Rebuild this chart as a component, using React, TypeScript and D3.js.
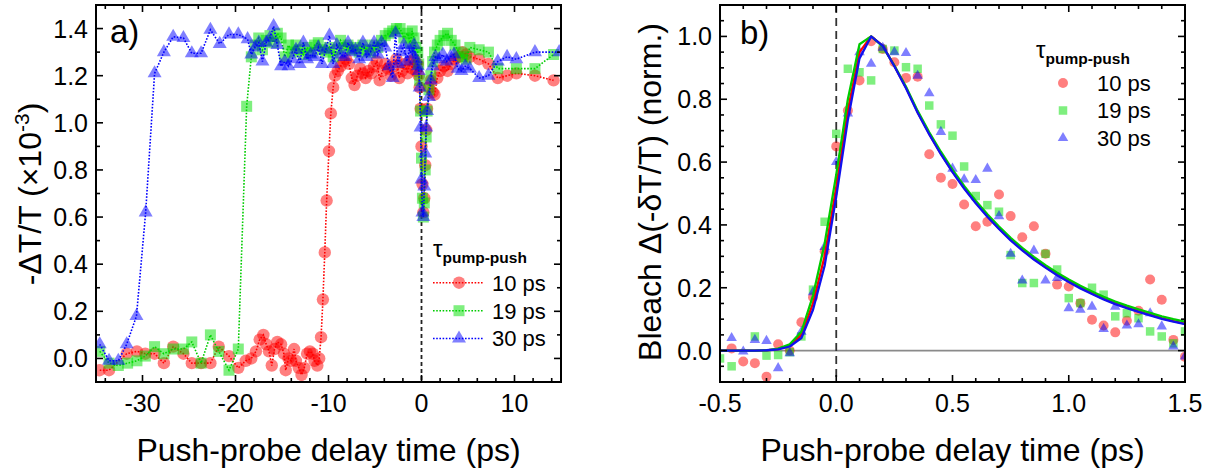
import React from 'react';
import * as d3 from 'd3';

// ---------- tick labels ----------
const aXTicks = [-30, -20, -10, 0, 10];
const aYTicks = [0, 0.2, 0.4, 0.6, 0.8, 1.0, 1.2, 1.4];
const bXTicks = [-0.5, 0, 0.5, 1.0, 1.5];
const bYTicks = [0, 0.2, 0.4, 0.6, 0.8, 1.0];
const legendLabels = ['10 ps', '19 ps', '30 ps'];

// ---------- panel a data: [delay (ps), -dT/T (x1e-3)] ----------
const a10: [number, number][] = [
  [-34.6, -0.05], [-33.6, -0.05], [-31.7, 0.02], [-30.6, 0.03], [-29.7, 0.02], [-28.7, 0.02], [-27.7, -0.02],
  [-26.7, 0.05], [-25.6, 0.02], [-24.7, -0.02], [-23.7, -0.02], [-22.7, -0.02], [-21.8, 0.05], [-20.7, 0.01],
  [-19.7, -0.04], [-18.9, -0.01], [-18.3, 0.0], [-17.8, 0.03], [-17.4, 0.08], [-17.0, 0.10], [-16.7, 0.06],
  [-16.4, 0.03], [-16.1, -0.03], [-15.8, 0.04], [-15.5, 0.07], [-15.1, 0.06], [-14.8, 0.02], [-14.6, -0.05],
  [-14.3, 0.0], [-14.0, -0.01], [-13.7, 0.04], [-13.5, -0.01], [-13.2, -0.04], [-12.9, -0.07], [-12.6, -0.04],
  [-12.3, 0.02], [-12.0, 0.03], [-11.7, 0.02], [-11.5, -0.01], [-11.2, -0.03], [-11.0, 0.0], [-10.8, 0.09],
  [-10.6, 0.25], [-10.4, 0.45], [-10.2, 0.67], [-9.95, 0.88], [-9.75, 1.04], [-9.5, 1.15], [-9.3, 1.2],
  [-9.0, 1.22], [-8.7, 1.24], [-8.4, 1.26], [-8.1, 1.27], [-7.8, 1.25], [-7.5, 1.19], [-7.2, 1.16], [-6.9, 1.2],
  [-6.6, 1.23], [-6.3, 1.21], [-6.0, 1.19], [-5.7, 1.22], [-5.4, 1.21], [-5.1, 1.24], [-4.8, 1.26], [-4.5, 1.18],
  [-4.2, 1.22], [-3.9, 1.25], [-3.6, 1.23], [-3.3, 1.2], [-3.0, 1.24], [-2.7, 1.27], [-2.4, 1.19], [-2.1, 1.22],
  [-1.8, 1.25], [-1.5, 1.21], [-1.2, 1.26], [-1.0, 1.23], [-0.8, 1.27], [-0.6, 1.22], [-0.4, 1.25], [-0.3, 1.2],
  [-0.2, 1.15], [-0.1, 1.06], [0.0, 0.9], [0.1, 0.74], [0.2, 0.62], [0.3, 0.68], [0.4, 0.82], [0.5, 0.97],
  [0.6, 1.06], [0.8, 1.15], [1.0, 1.18], [1.2, 1.13], [1.4, 1.12], [1.7, 1.19], [2.0, 1.22], [2.4, 1.24],
  [2.8, 1.22], [3.2, 1.25], [3.6, 1.27], [4.0, 1.28], [4.4, 1.3], [4.8, 1.29], [5.2, 1.28], [6.2, 1.27],
  [7.2, 1.25], [8.2, 1.19], [9.2, 1.2], [10.2, 1.21], [12.2, 1.2], [14.2, 1.18],
];
const a19: [number, number][] = [
  [-34.6, 0.03], [-33.6, -0.02], [-32.6, -0.03], [-31.6, -0.02], [-30.6, -0.01], [-29.7, 0.01], [-28.7, 0.05],
  [-27.7, 0.02], [-26.7, 0.04], [-25.6, 0.04], [-24.7, 0.07], [-23.7, -0.02], [-22.7, 0.1], [-21.8, 0.03],
  [-20.7, -0.05], [-19.7, 0.04], [-18.8, 1.07], [-18.3, 1.28], [-17.9, 1.33], [-17.5, 1.36], [-17.1, 1.31],
  [-16.7, 1.35], [-16.3, 1.37], [-15.9, 1.34], [-15.5, 1.38], [-15.1, 1.36], [-14.7, 1.28], [-14.3, 1.33],
  [-13.9, 1.3], [-13.5, 1.33], [-13.1, 1.31], [-12.7, 1.29], [-12.3, 1.32], [-11.9, 1.3], [-11.5, 1.33],
  [-11.1, 1.34], [-10.7, 1.31], [-10.3, 1.3], [-9.9, 1.32], [-9.5, 1.28], [-9.1, 1.31], [-8.7, 1.35],
  [-8.3, 1.32], [-7.9, 1.33], [-7.5, 1.31], [-7.1, 1.32], [-6.7, 1.3], [-6.3, 1.33], [-5.9, 1.31], [-5.5, 1.3],
  [-5.1, 1.33], [-4.7, 1.32], [-4.3, 1.35], [-3.9, 1.37], [-3.5, 1.38], [-3.1, 1.39], [-2.7, 1.4], [-2.3, 1.4],
  [-1.9, 1.36], [-1.5, 1.38], [-1.2, 1.34], [-1.0, 1.39], [-0.8, 1.36], [-0.6, 1.32], [-0.4, 1.3], [-0.3, 1.25],
  [-0.2, 1.18], [-0.1, 1.05], [0.0, 0.85], [0.1, 0.68], [0.2, 0.6], [0.3, 0.66], [0.4, 0.8], [0.5, 0.94],
  [0.6, 1.05], [0.8, 1.14], [1.0, 1.2], [1.2, 1.26], [1.4, 1.3], [1.7, 1.33], [2.0, 1.35], [2.4, 1.37],
  [2.8, 1.38], [3.2, 1.35], [3.6, 1.33], [4.0, 1.3], [4.4, 1.28], [4.8, 1.27], [5.2, 1.32], [6.2, 1.31],
  [7.2, 1.3], [8.2, 1.23], [10.2, 1.23], [12.2, 1.23], [14.2, 1.29],
];
const a30: [number, number][] = [
  [-34.6, 0.06], [-33.6, -0.01], [-32.6, -0.01], [-31.7, 0.06], [-30.65, 0.18], [-29.66, 0.62], [-28.7, 1.21],
  [-27.7, 1.3], [-26.7, 1.365], [-25.6, 1.36], [-24.7, 1.295], [-23.7, 1.295], [-22.7, 1.395], [-21.7, 1.335],
  [-20.7, 1.375], [-19.7, 1.375], [-18.7, 1.355], [-18.3, 1.29], [-17.9, 1.32], [-17.5, 1.34], [-17.1, 1.26],
  [-16.7, 1.34], [-16.3, 1.36], [-15.9, 1.41], [-15.5, 1.33], [-15.1, 1.24], [-14.7, 1.26], [-14.3, 1.24],
  [-13.9, 1.27], [-13.5, 1.31], [-13.1, 1.25], [-12.7, 1.34], [-12.3, 1.27], [-11.9, 1.29], [-11.5, 1.28],
  [-11.1, 1.32], [-10.7, 1.25], [-10.3, 1.31], [-9.9, 1.37], [-9.5, 1.25], [-9.1, 1.33], [-8.7, 1.29],
  [-8.3, 1.28], [-7.9, 1.34], [-7.5, 1.3], [-7.1, 1.31], [-6.7, 1.27], [-6.3, 1.34], [-5.9, 1.28], [-5.5, 1.3],
  [-5.1, 1.34], [-4.7, 1.29], [-4.3, 1.34], [-3.9, 1.32], [-3.5, 1.24], [-3.1, 1.19], [-2.8, 1.38], [-2.5, 1.25],
  [-2.2, 1.3], [-1.9, 1.33], [-1.6, 1.26], [-1.3, 1.31], [-1.0, 1.29], [-0.8, 1.33], [-0.6, 1.27], [-0.4, 1.24],
  [-0.3, 1.22], [-0.2, 1.15], [-0.1, 0.98], [0.0, 0.76], [0.1, 0.62], [0.2, 0.6], [0.3, 0.73], [0.4, 0.87],
  [0.5, 0.98], [0.6, 1.05], [0.8, 1.11], [1.0, 1.18], [1.2, 1.24], [1.5, 1.28], [1.9, 1.27], [2.3, 1.29],
  [2.7, 1.26], [3.1, 1.28], [3.5, 1.29], [3.9, 1.23], [4.3, 1.22], [4.7, 1.24], [5.2, 1.23], [6.2, 1.19],
  [7.2, 1.2], [8.2, 1.26], [9.2, 1.28], [10.2, 1.27], [12.2, 1.3], [14.8, 1.3],
];

// ---------- panel b data ----------
const bT = [-0.5, -0.45, -0.4, -0.35, -0.3, -0.25, -0.2, -0.15, -0.1, -0.05, 0, 0.05, 0.1, 0.15, 0.2, 0.25, 0.3,
  0.35, 0.4, 0.45, 0.5, 0.55, 0.6, 0.65, 0.7, 0.75, 0.8, 0.85, 0.9, 0.95, 1.0, 1.05, 1.1, 1.15, 1.2, 1.25, 1.3,
  1.35, 1.4, 1.45, 1.5];
const b10: (number | null)[] = [null, 0.007, -0.035, -0.04, -0.083, 0.02, 0.0, 0.09, 0.17, 0.316, 0.65, 0.764,
  0.86, 0.985, 0.96, 0.918, 0.868, 0.872, 0.625, 0.55, 0.53, 0.465, 0.396, 0.41, 0.497, 0.428, 0.361, 0.396,
  0.308, 0.21, 0.204, 0.151, 0.098, 0.08, 0.058, 0.095, 0.127, 0.226, 0.162, 0.034, -0.02];
const b19: (number | null)[] = [-0.025, -0.05, null, 0.045, -0.016, -0.014, -0.005, 0.045, 0.194, 0.41, 0.69,
  0.897, 0.886, 0.86, 0.96, 0.955, 0.902, 0.897, 0.78, 0.72, 0.684, 0.586, 0.492, 0.463, 0.442, 0.304, 0.215,
  0.215, 0.308, 0.258, 0.167, 0.151, 0.2, 0.178, 0.109, 0.119, 0.103, 0.061, 0.045, 0.023, 0.061];
const b30: (number | null)[] = [null, 0.04, -0.003, 0.034, 0.031, -0.056, -0.008, 0.06, 0.186, 0.33, 0.6, 0.755,
  0.95, 0.913, 0.964, 0.95, 0.947, 0.875, 0.819, 0.696, 0.579, 0.545, 0.543, 0.579, 0.428, 0.308, 0.223,
  0.318, 0.223, 0.231, 0.135, 0.13, 0.14, 0.069, 0.14, 0.08, 0.084, 0.119, 0.077, 0.013, -0.019];
const fit10 = [0, 0, 0, 0, 0.001, 0.005, 0.016, 0.05, 0.15, 0.3, 0.52, 0.765, 0.95, 1.0, 0.97, 0.906, 0.837,
  0.759, 0.69, 0.627, 0.57, 0.518, 0.471, 0.428, 0.389, 0.353, 0.321, 0.292, 0.266, 0.242, 0.22, 0.2, 0.182,
  0.165, 0.15, 0.137, 0.125, 0.114, 0.103, 0.094, 0.086];
const fit19 = [0, 0, 0, 0, 0.001, 0.006, 0.02, 0.06, 0.175, 0.34, 0.56, 0.8, 0.975, 1.0, 0.968, 0.907, 0.84,
  0.763, 0.695, 0.633, 0.576, 0.524, 0.477, 0.434, 0.395, 0.359, 0.327, 0.298, 0.272, 0.248, 0.226, 0.206,
  0.188, 0.171, 0.156, 0.143, 0.131, 0.12, 0.109, 0.1, 0.092];
const fit30 = [0, 0, 0, 0, 0.001, 0.004, 0.013, 0.04, 0.13, 0.27, 0.49, 0.735, 0.93, 1.0, 0.97, 0.905, 0.835,
  0.757, 0.688, 0.625, 0.568, 0.516, 0.469, 0.426, 0.387, 0.351, 0.319, 0.29, 0.264, 0.24, 0.218, 0.198, 0.18,
  0.163, 0.148, 0.135, 0.123, 0.112, 0.101, 0.092, 0.084];

// ---------- styling ----------
const FONT = "'Liberation Sans', Arial, Helvetica, sans-serif";
const RED = '#ff0000';
const GREEN = '#00e000';
const BLUE = '#0000ff';
const LINE_GREEN = '#00cc00';
const MARK_OP = 0.5;

const A = { left: 96, right: 561, top: 5, bottom: 382 };
const B = { left: 720, right: 1185, top: 5, bottom: 382 };

const xa = d3.scaleLinear().domain([-35, 15]).range([A.left, A.right]);
const ya = d3.scaleLinear().domain([-0.1, 1.5]).range([A.bottom, A.top]);
const xb = d3.scaleLinear().domain([-0.5, 1.5]).range([B.left, B.right]);
const yb = d3.scaleLinear().domain([-0.1, 1.1]).range([B.bottom, B.top]);

const symCircle = (r: number) => d3.symbol().type(d3.symbolCircle).size(Math.PI * r * r)() as string;
const symSquare = (s: number) => d3.symbol().type(d3.symbolSquare).size(s * s)() as string;
const symTri = (s: number) => d3.symbol().type(d3.symbolTriangle).size((Math.sqrt(3) / 4) * s * s)() as string;

type Box = { left: number; right: number; top: number; bottom: number };

function Frame({ box, xs, ys, xMinor, yMinor, xMajor, yMajor, xFmt, yFmt }: {
  box: Box; xs: d3.ScaleLinear<number, number>; ys: d3.ScaleLinear<number, number>;
  xMinor: number[]; yMinor: number[]; xMajor: number[]; yMajor: number[];
  xFmt: (v: number) => string; yFmt: (v: number) => string;
}) {
  const maj = 7, min = 4;
  const ticks: JSX.Element[] = [];
  const addX = (v: number, len: number, k: string) => {
    const x = xs(v);
    ticks.push(<line key={'xb' + k} x1={x} x2={x} y1={box.bottom} y2={box.bottom - len} />);
    ticks.push(<line key={'xt' + k} x1={x} x2={x} y1={box.top} y2={box.top + len} />);
  };
  const addY = (v: number, len: number, k: string) => {
    const y = ys(v);
    ticks.push(<line key={'yl' + k} x1={box.left} x2={box.left + len} y1={y} y2={y} />);
    ticks.push(<line key={'yr' + k} x1={box.right} x2={box.right - len} y1={y} y2={y} />);
  };
  xMinor.forEach((v, i) => addX(v, min, 'm' + i));
  xMajor.forEach((v, i) => addX(v, maj, 'M' + i));
  yMinor.forEach((v, i) => addY(v, min, 'm' + i));
  yMajor.forEach((v, i) => addY(v, maj, 'M' + i));
  return (
    <g>
      <g stroke="#000" strokeWidth={1.6}>{ticks}</g>
      <rect x={box.left} y={box.top} width={box.right - box.left} height={box.bottom - box.top}
        fill="none" stroke="#000" strokeWidth={2} />
      <g fontFamily={FONT} fontSize={25} fill="#000">
        {xMajor.map((v, i) => (
          <text key={'xl' + i} x={xs(v)} y={box.bottom + 30} textAnchor="middle">{xFmt(v)}</text>
        ))}
        {yMajor.map((v, i) => (
          <text key={'yl' + i} x={box.left - 8} y={ys(v)} dy="0.36em" textAnchor="end">{yFmt(v)}</text>
        ))}
      </g>
    </g>
  );
}

const fmtA = (v: number) => (v < 0 ? '-' + Math.abs(v) : String(v));
const fmt1 = (v: number) => (v < 0 ? '-' + Math.abs(v).toFixed(1) : v.toFixed(1));

function within(v: number, majors: number[]) {
  return majors.some((m) => Math.abs(m - v) < 1e-6);
}

export default function App() {
  const aXMinor = d3.range(-34, 15, 2).filter((v) => !within(v, aXTicks));
  const aYMinor = d3.range(-1, 16, 1).map((k) => k / 10).filter((v) => !within(v, aYTicks));
  const bXMinor = d3.range(-5, 16, 1).map((k) => k / 10).filter((v) => !within(v, bXTicks));
  const bYMinor = d3.range(-2, 23, 1).map((k) => k / 20).filter((v) => !within(v, bYTicks));

  const lineA = d3.line<[number, number]>().x((d) => xa(d[0])).y((d) => ya(d[1]));
  const fitLine = d3.line<number>().x((_, i) => xb(bT[i])).y((d) => yb(d));

  const aSeries = [
    { data: a10, color: RED, mark: symCircle(6.2) },
    { data: a19, color: GREEN, lineColor: LINE_GREEN, mark: symSquare(11) },
    { data: a30, color: BLUE, mark: symTri(14) },
  ];
  const bSeries = [
    { data: b10, color: RED, mark: symCircle(5) },
    { data: b19, color: GREEN, mark: symSquare(8.5) },
    { data: b30, color: BLUE, mark: symTri(10.5) },
  ];
  const fits = [
    { data: fit10, color: RED },
    { data: fit19, color: LINE_GREEN },
    { data: fit30, color: '#1010ee' },
  ];

  const legA = { lineX1: 433, lineX2: 483, markX: 459, textX: 492, rows: [282.7, 310.7, 338.5] };
  const legB = { markX: 1063, textX: 1097, rows: [83, 110.5, 138] };

  return (
    <svg width={1219} height={472} style={{ position: 'absolute', left: 0, top: 0, background: '#fff' }}
      xmlns="http://www.w3.org/2000/svg">
      <defs>
        <clipPath id="clipA"><rect x={A.left} y={A.top} width={A.right - A.left} height={A.bottom - A.top} /></clipPath>
        <clipPath id="clipB"><rect x={B.left} y={B.top} width={B.right - B.left} height={B.bottom - B.top} /></clipPath>
      </defs>
      <rect x={0} y={0} width={1219} height={472} fill="#fff" />

      {/* ---------------- panel a ---------------- */}
      <g clipPath="url(#clipA)">
        <line x1={xa(0)} x2={xa(0)} y1={A.top} y2={A.bottom} stroke="#222" strokeWidth={1.8} strokeDasharray="4,3" />
        {aSeries.map((s, si) => (
          <g key={si}>
            <path d={lineA(s.data) as string} fill="none" stroke={s.lineColor || s.color} strokeWidth={1.6}
              strokeDasharray="1.6,1.6" />
            {s.data.map((d, i) => (
              <path key={i} d={s.mark} transform={`translate(${xa(d[0])},${ya(d[1])})`} fill={s.color}
                fillOpacity={MARK_OP} />
            ))}
          </g>
        ))}
      </g>
      <Frame box={A} xs={xa} ys={ya} xMajor={aXTicks} yMajor={aYTicks} xMinor={aXMinor} yMinor={aYMinor}
        xFmt={fmtA} yFmt={fmt1} />
      <text x={110} y={43} fontFamily={FONT} fontSize={33}>a)</text>
      <text x={328.5} y={461} fontFamily={FONT} fontSize={32} textAnchor="middle">Push-probe delay time (ps)</text>
      <text transform="translate(41,194) rotate(-90)" fontFamily={FONT} fontSize={32} textAnchor="middle">
        -ΔT/T (×10<tspan dy={-12} fontSize={21}>-3</tspan><tspan dy={12}>)</tspan>
      </text>
      {/* legend a */}
      <text x={433} y={257} fontFamily={FONT}>
        <tspan fontSize={24}>τ</tspan><tspan fontSize={15.5} fontWeight="bold" dy={6}>pump-push</tspan>
      </text>
      {aSeries.map((s, i) => (
        <g key={'la' + i}>
          <line x1={legA.lineX1} x2={legA.lineX2} y1={legA.rows[i]} y2={legA.rows[i]} stroke={s.lineColor || s.color}
            strokeWidth={1.6} strokeDasharray="1.6,1.6" />
          <path d={s.mark} transform={`translate(${legA.markX},${legA.rows[i]})`} fill={s.color} fillOpacity={MARK_OP} />
          <text x={legA.textX} y={legA.rows[i]} dy="0.36em" fontFamily={FONT} fontSize={22}>{legendLabels[i]}</text>
        </g>
      ))}

      {/* ---------------- panel b ---------------- */}
      <g clipPath="url(#clipB)">
        <line x1={B.left} x2={B.right} y1={yb(0)} y2={yb(0)} stroke="#8a8a8a" strokeWidth={1.6} />
        <line x1={xb(0)} x2={xb(0)} y1={B.top} y2={B.bottom} stroke="#333" strokeWidth={1.8} strokeDasharray="8,5" />
        {bSeries.map((s, si) => (
          <g key={si}>
            {s.data.map((v, i) => (v === null ? null : (
              <path key={i} d={s.mark} transform={`translate(${xb(bT[i])},${yb(v)})`} fill={s.color}
                fillOpacity={MARK_OP} />
            )))}
          </g>
        ))}
        {fits.map((f, i) => (
          <path key={'f' + i} d={fitLine(f.data) as string} fill="none" stroke={f.color} strokeWidth={2.3}
            strokeLinejoin="round" />
        ))}
      </g>
      <Frame box={B} xs={xb} ys={yb} xMajor={bXTicks} yMajor={bYTicks} xMinor={bXMinor} yMinor={bYMinor}
        xFmt={fmt1} yFmt={fmt1} />
      <text x={740} y={44} fontFamily={FONT} fontSize={33}>b)</text>
      <text x={952.5} y={461} fontFamily={FONT} fontSize={32} textAnchor="middle">Push-probe delay time (ps)</text>
      <text transform="translate(661,192) rotate(-90)" fontFamily={FONT} fontSize={32} textAnchor="middle">
        Bleach Δ(-δT/T) (norm.)
      </text>
      {/* legend b */}
      <text x={1036} y={58} fontFamily={FONT}>
        <tspan fontSize={24}>τ</tspan><tspan fontSize={15.5} fontWeight="bold" dy={6}>pump-push</tspan>
      </text>
      {bSeries.map((s, i) => (
        <g key={'lb' + i}>
          <path d={s.mark} transform={`translate(${legB.markX},${legB.rows[i]})`} fill={s.color} fillOpacity={MARK_OP} />
          <text x={legB.textX} y={legB.rows[i]} dy="0.36em" fontFamily={FONT} fontSize={22}>{legendLabels[i]}</text>
        </g>
      ))}
    </svg>
  );
}
